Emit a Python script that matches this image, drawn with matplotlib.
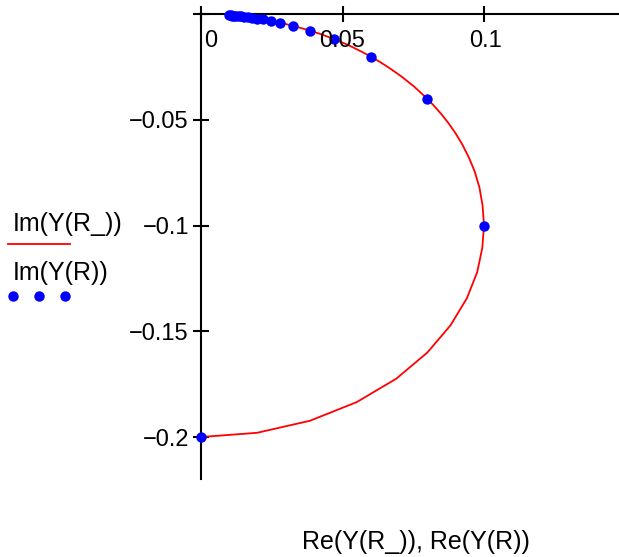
import matplotlib
matplotlib.use("Agg")
import matplotlib.pyplot as plt
from matplotlib.lines import Line2D

plt.rcParams['font.family'] = ['Liberation Sans', 'DejaVu Sans']

# fine sweep R_ (red line): Re and Im of Y
re_fine = [0.0, 0.0198, 0.0385, 0.0550, 0.0690, 0.0800, 0.0882, 0.0940, 0.0976,
           0.0994, 0.1000, 0.0995, 0.0984, 0.0967, 0.0946, 0.0923, 0.0899, 0.0874,
           0.0849, 0.0824, 0.0800, 0.0753, 0.0710, 0.0670, 0.0633, 0.0600, 0.0569,
           0.0541, 0.0516, 0.0492, 0.0471, 0.0424, 0.0385, 0.0324, 0.0280, 0.0246,
           0.0220, 0.0198, 0.0166, 0.0142, 0.0125, 0.0111, 0.0100]
im_fine = [-0.2000, -0.1980, -0.1923, -0.1835, -0.1724, -0.1600, -0.1471, -0.1342,
           -0.1220, -0.1105, -0.1000, -0.0905, -0.0820, -0.0743, -0.0676, -0.0615,
           -0.0562, -0.0514, -0.0472, -0.0434, -0.0400, -0.0342, -0.0296, -0.0258,
           -0.0226, -0.0200, -0.0178, -0.0159, -0.0143, -0.0130, -0.0118, -0.0094,
           -0.0077, -0.0054, -0.0040, -0.0031, -0.0024, -0.0020, -0.0014, -0.0010,
           -0.0008, -0.0006, -0.0005]

# coarse sweep R (blue dots)
re_pts = [0.0, 0.1000, 0.0800, 0.0600, 0.0471, 0.0385, 0.0324, 0.0280, 0.0246,
          0.0220, 0.0198, 0.0180, 0.0166, 0.0153, 0.0142, 0.0133, 0.0125, 0.0117,
          0.0111, 0.0105, 0.0100]
im_pts = [-0.2000, -0.1000, -0.0400, -0.0200, -0.0118, -0.0077, -0.0054, -0.0040,
          -0.0031, -0.0024, -0.0020, -0.0016, -0.0014, -0.0012, -0.0010, -0.0009,
          -0.0008, -0.0007, -0.0006, -0.0005, -0.0005]

xticks = [0, 0.05, 0.1]
xlabels = ['0', '0.05', '0.1']
yticks = [0, -0.05, -0.1, -0.15, -0.2]
ylabels = ['', '\u22120.05', '\u22120.1', '\u22120.15', '\u22120.2']

FS = 17
FS_TXT = 18
W, H = 619, 557
fig = plt.figure(figsize=(W / 100, H / 100), dpi=100)
ax = fig.add_axes([201 / W, 1 - 479.3 / H, 424.5 / W, 465 / H])

ax.plot(re_fine, im_fine, color='#ff0000', lw=1.3, clip_on=False, zorder=2)
ax.plot(re_pts, im_pts, 'o', color='#0000ff', ms=7.5, mec='none', clip_on=False, zorder=3)

ax.set_xlim(0, 0.15)
ax.set_ylim(-0.22, 0)

for s in ['right', 'bottom']:
    ax.spines[s].set_visible(False)
for s in ['left', 'top']:
    ax.spines[s].set_linewidth(1.5)
    ax.spines[s].set_color('black')

ax.xaxis.tick_top()
ax.set_xticks(xticks)
ax.set_xticklabels([])
ax.set_yticks(yticks)
ax.set_yticklabels(ylabels, fontsize=FS)
ax.tick_params(axis='both', direction='inout', length=11.5, width=1.5, color='black')
ax.tick_params(axis='y', pad=3)

x_off = [7, 0, 1]
for v, lab, dx in zip(xticks, xlabels, x_off):
    ax.annotate(lab, xy=(v, 0), xytext=(dx, -11), textcoords='offset points',
                ha='center', va='top', fontsize=FS, annotation_clip=False)

# legend
fig.text(13 / W, 1 - 224 / H, 'Im(Y(R_))', fontsize=FS_TXT, ha='left', va='center')
fig.add_artist(Line2D([8 / W, 70 / W], [1 - 244 / H, 1 - 244 / H], color='#ff0000', lw=1.3))
fig.text(13 / W, 1 - 273 / H, 'Im(Y(R))', fontsize=FS_TXT, ha='left', va='center')
fig.add_artist(Line2D([13 / W, 39 / W, 65 / W], [1 - 296 / H] * 3, ls='none', marker='o',
                      color='#0000ff', ms=7.5, mec='none'))

fig.text(416 / W, 1 - 542 / H, 'Re(Y(R_)), Re(Y(R))', fontsize=FS_TXT, ha='center', va='center')

fig.savefig('out.png', dpi=100)
